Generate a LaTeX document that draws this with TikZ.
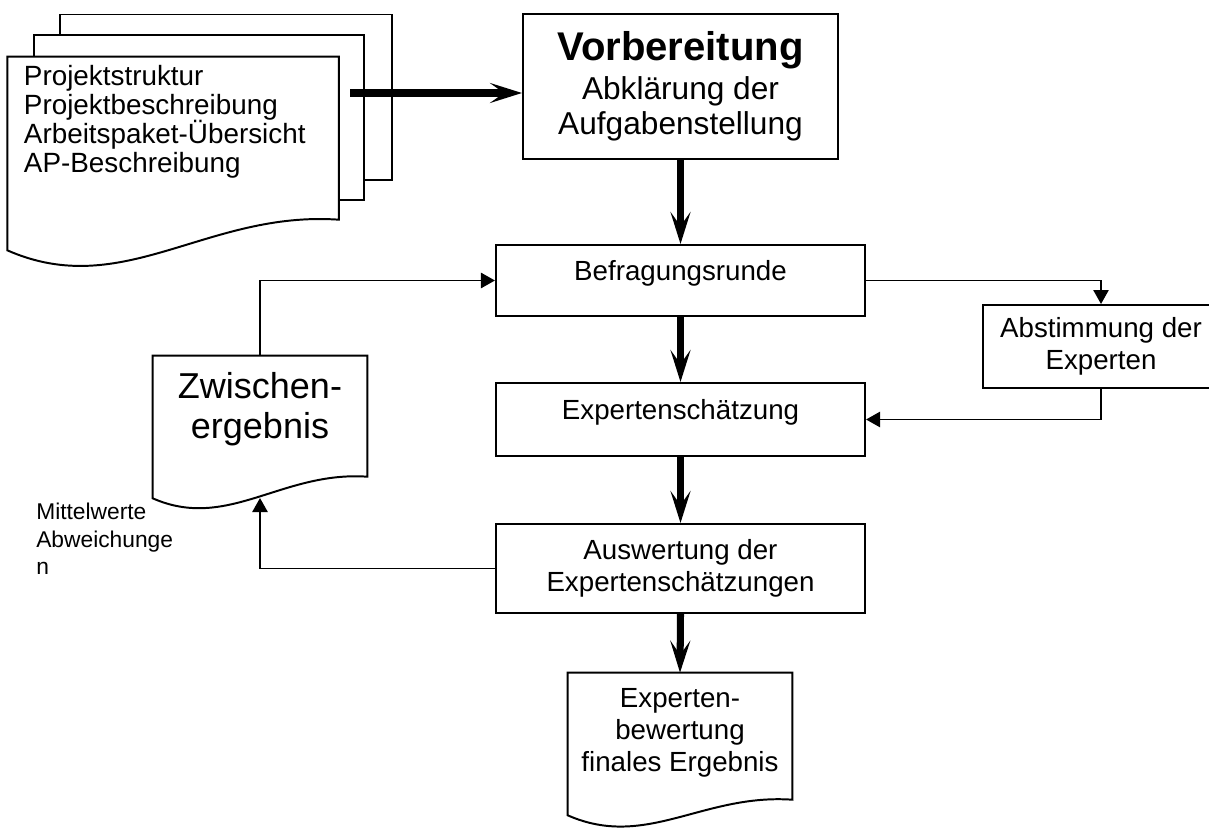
\documentclass[tikz,border=0pt]{standalone}
\usepackage{fontspec}
\setmainfont{Liberation Sans}
\usetikzlibrary{arrows.meta,positioning}

\begin{document}
\begin{tikzpicture}[x=0.025cm, y=-0.025cm,
  every node/.style={font=\fontsize{19.7pt}{22.8pt}\selectfont},
  stepbox/.style={draw, line width=1.4pt, inner sep=0pt, align=center, minimum width=9.225cm},
  oneline/.style={text height=0.5em, text depth=0.5em},
  docframe/.style={inner sep=0pt, minimum height=3.55cm},
  doctext/.style={inner sep=0pt, align=center, anchor=north},
  outline/.style={line width=1.4pt},
  flow/.style={line width=5pt, -{Stealth[length=0.8cm, width=0.5cm, inset=0.35cm]}},
  link/.style={line width=1.4pt, -{Triangle[length=0.35cm, width=0.38cm]}}]
  \useasboundingbox (0,0) rectangle (1209,828);

  % Unterlagen (Stapel)
  \draw[outline] (60,35) -- (60,14.5) -- (392,14.5) -- (392,180) -- (364,180);
  \draw[outline] (34,57) -- (34,35) -- (364,35) -- (364,200) -- (339,200);
  \node[docframe, minimum width=8.275cm, minimum height=4.825cm] (docs) at (173.1,153.5) {};
  \draw[outline] (docs.north west) -- (docs.north east) -- ++(0,163)
    .. controls +(-132.4,-9.3) and +(115.9,51) .. (docs.south west) -- cycle;
  \node[inner sep=0pt, anchor=north west, align=left, font=\fontsize{19.8pt}{20.8pt}\selectfont]
    (docstxt) at ([xshift=0.41cm, yshift=-0.2cm]docs.north west)
    {Projektstruktur\\Projektbeschreibung\\Arbeitspaket-Übersicht\\AP-Beschreibung};

  % Ablauf
  \node[stepbox, minimum width=7.875cm, minimum height=3.625cm, font=\fontsize{22.5pt}{24.9pt}\selectfont]
    (vorb) at (680.5,86.5)
    {\fontsize{28.5pt}{28.5pt}\selectfont\bfseries Vorbereitung\\[2.8pt]Abklärung der\\Aufgabenstellung};
  \node[stepbox, oneline, minimum height=1.775cm] (befr) at (680.5,280.5) {Befragungsrunde};
  \node[stepbox, oneline, minimum height=1.825cm] (expe) at (680.5,419.5) {Expertenschätzung};
  \node[stepbox, minimum height=2.225cm] (ausw) at (680.5,568.5) {Auswertung der\\Expertenschätzungen};
  \node[stepbox, minimum width=5.9cm, minimum height=2.075cm] (abst) at (1101,346.5) {Abstimmung der\\Experten};

  % Zwischenergebnis
  \node[docframe, minimum width=5.35cm] (zw) at (260,427) {};
  \draw[outline] (zw.north west) -- (zw.north east) -- ++(0,121)
    .. controls +(-85.6,-6) and +(74.9,33) .. (zw.south west) -- cycle;
  \node[doctext, font=\fontsize{25.6pt}{28.5pt}\selectfont] (zwtxt) at ([yshift=-0.4cm]zw.north)
    {Zwischen-\\ergebnis};
  \coordinate (zwwave) at (260,498);
  \node[inner sep=0pt, anchor=north west, align=left, font=\fontsize{16.2pt}{19.6pt}\selectfont]
    (mw) at (36,503) {Mittelwerte\\Abweichunge\\n};

  % Endergebnis
  \node[docframe, minimum width=5.6cm] (fin) at (680,744) {};
  \draw[outline] (fin.north west) -- (fin.north east) -- ++(0,127)
    .. controls +(-89.6,-6.3) and +(78.4,34.5) .. (fin.south west) -- cycle;
  \node[doctext] (fintxt) at ([yshift=-0.38cm]fin.north)
    {Experten-\\bewertung\\finales Ergebnis};

  % Pfeile
  \coordinate (docsout) at (350,93);
  \draw[flow] (docsout) -- (docsout -| vorb.west);
  \draw[flow] (vorb.south) -- (befr.north);
  \draw[flow] (befr.south) -- (expe.north);
  \draw[flow] (expe.south) -- (ausw.north);
  \draw[flow] (ausw.south) -- (fin.north);
  \draw[link] (zw.north) |- (befr.west);
  \draw[link] (befr.east) -| (abst.north);
  \draw[link] (abst.south) |- (expe.east);
  \draw[link] (ausw.west) -| (zwwave);
\end{tikzpicture}
\end{document}
